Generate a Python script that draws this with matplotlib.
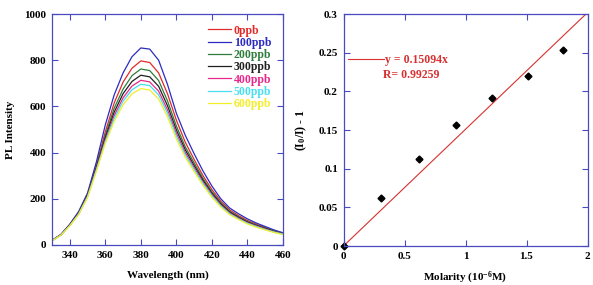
import numpy as np
import matplotlib
matplotlib.use("Agg")
import matplotlib.pyplot as plt

plt.rcParams['font.family'] = ['Liberation Serif', 'DejaVu Serif']
plt.rcParams['font.weight'] = 'bold'
plt.rcParams['axes.labelweight'] = 'bold'
plt.rcParams['mathtext.fontset'] = 'custom'
plt.rcParams['mathtext.rm'] = 'Liberation Serif:bold'
plt.rcParams['mathtext.bf'] = 'Liberation Serif:bold'
plt.rcParams['mathtext.it'] = 'Liberation Serif:bold'
plt.rcParams['mathtext.default'] = 'bf'

# PL spectra (wavelength in nm)
wl = [330, 335, 340, 345, 350, 355, 360, 365, 370, 375, 380, 385, 390, 395,
      400, 405, 410, 415, 420, 425, 430, 435, 440, 445, 450, 455, 460]
pl_0 = [20, 45, 88, 140, 220, 345, 490, 615, 705, 765, 797, 790, 745, 655,
        540, 445, 370, 300, 240, 190, 152, 127, 106, 90, 76, 62, 51]
pl_100 = [20, 45, 90, 145, 225, 360, 520, 650, 745, 815, 853, 848, 800, 695,
          570, 475, 395, 320, 255, 200, 160, 135, 113, 95, 80, 65, 53]
pl_200 = [20, 44, 87, 138, 216, 338, 475, 592, 675, 733, 762, 755, 712, 624,
          515, 425, 355, 288, 230, 183, 146, 122, 102, 86, 73, 60, 50]
pl_300 = [19, 44, 86, 137, 214, 334, 465, 575, 655, 708, 735, 728, 687, 603,
          498, 412, 344, 280, 224, 178, 142, 119, 99, 84, 71, 58, 49]
pl_400 = [19, 43, 85, 135, 211, 329, 455, 560, 637, 688, 713, 706, 666, 585,
          484, 400, 335, 272, 218, 173, 138, 116, 96, 82, 69, 57, 48]
pl_500 = [19, 43, 84, 134, 209, 325, 448, 548, 623, 672, 696, 690, 650, 571,
          472, 390, 327, 266, 213, 169, 135, 113, 94, 80, 67, 56, 47]
pl_600 = [18, 42, 83, 132, 206, 320, 440, 535, 607, 654, 677, 671, 632, 555,
          459, 380, 318, 258, 207, 164, 131, 110, 91, 77, 65, 54, 45]

labels = ['0ppb', '100ppb', '200ppb', '300ppb', '400ppb', '500ppb', '600ppb']
colors = ['#e32a2a', '#2b2bc4', '#2e7d3c', '#202020', '#e8288c', '#48dff0', '#f2ee2a']

# Stern-Volmer data
molarity = [0, 0.31, 0.62, 0.92, 1.22, 1.51, 1.80]
ratio = [0, 0.062, 0.112, 0.156, 0.191, 0.220, 0.253]
slope = 0.15094
r_val = 0.99259

spine_col = '#4a4ac0'
fit_col = '#d83030'

fig = plt.figure(figsize=(5.93, 2.85), dpi=100)
ax1 = fig.add_axes([52 / 593, 1 - 245 / 285, 231 / 593, 231 / 285])
ax2 = fig.add_axes([343.5 / 593, 1 - 246 / 285, 244 / 593, 232 / 285])

for lab, col, y in zip(labels, colors,
                       [pl_0, pl_100, pl_200, pl_300, pl_400, pl_500, pl_600]):
    ax1.plot(wl, y, color=col, lw=0.9, label=lab)

ax1.set_xlim(330, 460)
ax1.set_ylim(0, 1000)
ax1.set_xticks([340, 360, 380, 400, 420, 440, 460])
ax1.set_yticks([0, 200, 400, 600, 800, 1000])
ax1.set_xlabel('Wavelength (nm)', fontsize=8, labelpad=8)
ax1.set_ylabel('PL Intensity', fontsize=8, labelpad=7)
leg = ax1.legend(loc='upper right', frameon=False, fontsize=8.5,
                 handlelength=2.0, handletextpad=0.2, labelspacing=0.02,
                 borderaxespad=0.4, bbox_to_anchor=(0.99, 0.995))
for txt, col in zip(leg.get_texts(), colors):
    txt.set_color(col)

xs = np.array([0, 2])
ax2.plot(xs, slope * xs, color=fit_col, lw=0.8, label='y = 0.15094x')
ax2.plot(molarity, ratio, 'D', color='black', ms=3.5, clip_on=False)
ax2.set_xlim(0, 2)
ax2.set_ylim(0, 0.3)
ax2.set_xticks([0, 0.5, 1, 1.5, 2])
ax2.set_xticklabels(['0', '0.5', '1', '1.5', '2'])
ax2.set_yticks([0, 0.05, 0.1, 0.15, 0.2, 0.25, 0.3])
ax2.set_yticklabels(['0', '0.05', '0.1', '0.15', '0.2', '0.25', '0.3'])
ax2.set_xlabel(r'Molarity (10$^{-6}$M)', fontsize=8, labelpad=7)
ax2.set_ylabel(r'(I$_{0}$/I) - 1', fontsize=8.5, labelpad=7)
leg2 = ax2.legend(loc='center left', frameon=False, fontsize=8.5,
                  handlelength=3.0, handletextpad=0.1,
                  bbox_to_anchor=(0.0, 0.80), borderaxespad=0)
for txt in leg2.get_texts():
    txt.set_color(fit_col)
ax2.text(0.32, 0.221, 'R= %.5f' % r_val, color=fit_col, fontsize=8.5,
         va='center')

for ax in (ax1, ax2):
    for s in ax.spines.values():
        s.set_color(spine_col)
        s.set_linewidth(0.9)
    ax.tick_params(direction='in', top=True, right=True, length=4,
                   width=0.8, color=spine_col, labelsize=8, pad=4)

fig.savefig('out.png', dpi=100)
